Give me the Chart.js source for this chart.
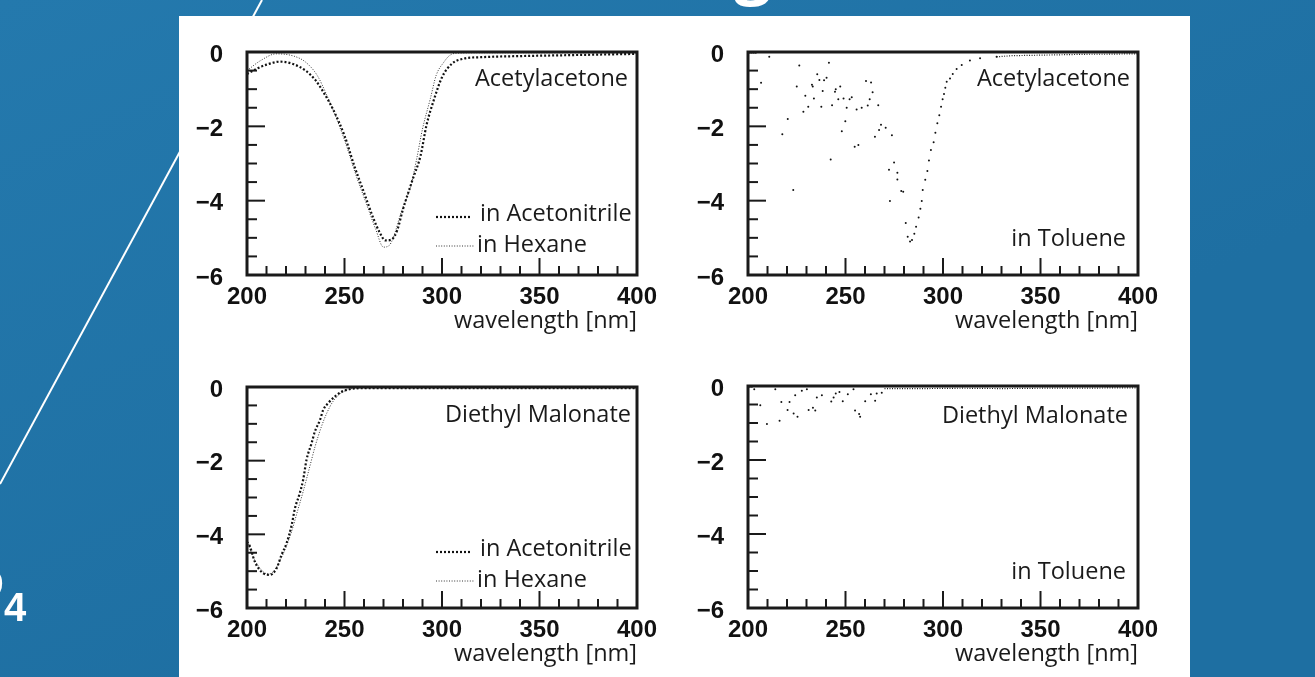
<!DOCTYPE html>
<html>
<head>
<meta charset="utf-8">
<script src="https://cdn.jsdelivr.net/npm/chart.js@4/dist/chart.umd.min.js"></script>
<style>
  body { margin: 0; width: 1315px; height: 677px; overflow: hidden; position: relative; }
  #deco { position: absolute; left: 0; top: 0; }
  #panel { position: absolute; left: 179px; top: 16px; width: 1011px; height: 661px; background: #fff; }
  .box { position: absolute; }
</style>
</head>
<body>
<canvas id="deco" width="1315" height="677"></canvas>
<div id="panel"></div>
<script>
// tick labels
const X_TICKS = [200, 250, 300, 350, 400];
const Y_TICKS = [0, -2, -4, -6];

// Acetylacetone, in acetonitrile
const WL_ACAC_ACN = [200, 205, 210, 217, 224, 230, 235, 240, 244, 250, 255, 260, 265, 268, 271, 274, 277, 280, 285, 289, 292, 296, 300, 305, 311, 320, 340, 360, 380, 400];
const ACAC_ACN = [-0.59, -0.45, -0.34, -0.26, -0.33, -0.5, -0.75, -1.15, -1.53, -2.25, -3.06, -3.78, -4.5, -4.85, -5.07, -5.05, -4.8, -4.23, -3.42, -2.79, -1.98, -1.26, -0.68, -0.32, -0.18, -0.14, -0.11, -0.09, -0.07, -0.05];

// Acetylacetone, in hexane
const WL_ACAC_HEX = [200, 207, 215, 224, 230, 236, 241, 246, 251, 256, 261, 266, 270, 273, 275, 279, 284, 287, 290, 294, 297, 301, 304, 308, 320, 360, 400];
const ACAC_HEX = [-0.5, -0.23, -0.05, -0.11, -0.27, -0.63, -1.17, -1.8, -2.52, -3.33, -4.05, -4.77, -5.25, -5.2, -5.0, -4.32, -3.6, -2.88, -2.07, -1.26, -0.63, -0.27, -0.09, -0.03, -0.02, -0.02, -0.02];

// Acetylacetone, in toluene (single points)
const WL_ACAC_TOL = [201, 202, 203, 204, 206.7, 210.9, 217.6, 220.4, 223.2, 225, 226.3, 228.4, 229.4, 230.9, 232.8, 233.2, 233.8, 235.5, 236.6, 237.6, 238.3, 239, 240.3, 241.5, 242.4, 243.1, 244.6, 245, 246.3, 247.3, 248.1, 249, 249.9, 250.6, 252.1, 253.2, 254.7, 255.7, 256.6, 258.3, 260.5, 261.4, 262.4, 263.1, 263.9, 265.1, 266.8, 267.2, 268.2, 270.6, 272.3, 272.8, 273.8, 274.9, 276.6, 276.6, 278.6, 279.6, 280.9, 281.9, 283.1, 284.1, 285.3, 286.2, 287.5, 288.4, 289.1, 289.6, 290.9, 292, 292.8, 293.8, 295.2, 296.1, 297.1, 298.1, 299, 299.8, 300.5, 301.2, 301.9, 303.6, 305, 307, 309.6, 313.8, 319, 327.5];
const ACAC_TOL = [-0.02, -0.02, -0.02, -0.02, -0.83, -0.13, -2.21, -1.8, -3.71, -0.93, -0.36, -1.61, -1.18, -1.47, -0.88, -0.93, -1.25, -0.6, -0.75, -1.47, -1.05, -0.76, -0.69, -0.29, -2.89, -1.43, -1.07, -1.0, -1.27, -0.93, -2.13, -1.25, -1.86, -1.5, -1.27, -1.22, -2.55, -1.55, -2.5, -1.5, -0.78, -1.44, -1.27, -0.82, -1.08, -2.28, -1.43, -2.1, -1.96, -2.04, -3.17, -4.01, -2.24, -2.97, -3.25, -3.43, -3.74, -3.76, -4.6, -4.97, -5.1, -5.06, -4.89, -4.7, -4.45, -4.22, -4.01, -3.71, -3.44, -3.2, -2.92, -2.64, -2.43, -2.17, -1.92, -1.7, -1.47, -1.27, -1.13, -0.96, -0.8, -0.71, -0.59, -0.46, -0.35, -0.23, -0.17, -0.13];
const WL_ACAC_TOL_TAIL = [327.5, 335, 345, 355, 365, 375, 385, 395, 400];
const ACAC_TOL_TAIL = [-0.13, -0.1, -0.09, -0.08, -0.07, -0.06, -0.06, -0.05, -0.05];

// Diethyl malonate, in acetonitrile
const WL_DEM_ACN = [200, 201.5, 204, 208.4, 211.8, 215.2, 217.7, 220.3, 222.9, 224.6, 226.8, 228.8, 230.5, 233.1, 234.8, 237.4, 239.1, 241.6, 245, 248.5, 252.7, 260, 300, 350, 400];
const DEM_ACN = [-4.2, -4.33, -4.74, -5.06, -5.1, -4.92, -4.56, -4.24, -3.75, -3.29, -2.93, -2.52, -1.98, -1.53, -1.21, -0.9, -0.62, -0.44, -0.26, -0.13, -0.06, -0.03, -0.03, -0.03, -0.03];

// Diethyl malonate, in hexane
const WL_DEM_HEX = [200, 204, 208, 211, 214, 217, 220, 223, 226, 229, 232, 235, 238, 241, 244, 247, 250, 254, 260, 300, 350, 400];
const DEM_HEX = [-4.2, -4.7, -5.0, -5.08, -4.98, -4.7, -4.35, -3.9, -3.35, -2.8, -2.2, -1.6, -1.1, -0.7, -0.4, -0.22, -0.11, -0.04, -0.02, -0.02, -0.02, -0.02];

// Diethyl malonate, in toluene (single points)
const WL_DEM_TOL = [201, 202, 203.2, 206.3, 209.7, 214, 216.2, 217.1, 220.3, 221.3, 223.4, 224.2, 225.4, 227.6, 230.2, 231.1, 233.3, 234.5, 235.3, 237.9, 242.7, 243.9, 245, 246.9, 248.6, 251.2, 254.1, 254.9, 257, 257.5, 260.1, 263, 265.2, 266, 268.6];
const DEM_TOL = [-0.02, -0.02, -0.09, -0.52, -1.03, -0.09, -0.94, -0.43, -0.65, -0.43, -0.74, -0.25, -0.83, -0.13, -0.09, -0.65, -0.59, -0.66, -0.31, -0.25, -0.42, -0.31, -0.2, -0.16, -0.41, -0.22, -0.09, -0.66, -0.76, -0.83, -0.41, -0.22, -0.4, -0.2, -0.18];
const WL_DEM_TOL_TAIL = [270, 290, 310, 330, 350, 370, 390, 400];
const DEM_TOL_TAIL = [-0.07, -0.07, -0.06, -0.07, -0.06, -0.06, -0.05, -0.05];

const pts = (xs, ys) => xs.map((x, i) => ({ x, y: ys[i] }));

const ACN_STYLE = { borderColor: '#111', borderWidth: 2.2, borderDash: [2, 2], pointRadius: 0, showLine: true, cubicInterpolationMode: 'monotone' };
const HEX_STYLE = { borderColor: '#333', borderWidth: 1, borderDash: [1, 1.6], pointRadius: 0, showLine: true, cubicInterpolationMode: 'monotone' };
const DOT_STYLE = { pointRadius: 1, pointBorderWidth: 0, pointBackgroundColor: '#111', showLine: false };
const TAIL_STYLE = { borderColor: '#222', borderWidth: 1.2, borderDash: [1, 1.5], pointRadius: 0, showLine: true };

// background of the slide
(function () {
  const c = document.getElementById('deco').getContext('2d');
  const g = c.createLinearGradient(0, 0, 300, 677);
  g.addColorStop(0, '#2479ad');
  g.addColorStop(1, '#1e6fa2');
  c.fillStyle = g;
  c.fillRect(0, 0, 1315, 677);
  c.strokeStyle = '#fff';
  c.lineWidth = 2;
  c.beginPath(); c.moveTo(262, 0); c.lineTo(0, 484); c.stroke();
  c.fillStyle = '#fff';
  c.font = 'bold 66px "Open Sans"';
  c.textAlign = 'center';
  c.fillText('g', 753, -9);
  c.font = 'bold 44px "Liberation Sans"';
  c.textAlign = 'right';
  c.fillText('O', 4, 599);
  c.font = 'bold 40px "Liberation Sans"';
  c.textAlign = 'left';
  c.fillText('4', 4, 621);
})();

const frameDeco = {
  id: 'frameDeco',
  afterDatasetsDraw(chart, args, opts) {
    const { ctx, chartArea: a, scales: { x, y } } = chart;
    ctx.save();
    ctx.strokeStyle = '#1a1a1a';
    ctx.lineWidth = 2;
    for (let v = 200; v <= 400; v += 10) {
      const px = x.getPixelForValue(v);
      const len = v % 50 === 0 ? 17 : 9;
      ctx.beginPath(); ctx.moveTo(px, a.bottom); ctx.lineTo(px, a.bottom - len); ctx.stroke();
    }
    for (let v = -6; v <= 0; v += 0.5) {
      const py = y.getPixelForValue(v);
      const len = v % 2 === 0 ? 18 : 10;
      ctx.beginPath(); ctx.moveTo(a.left, py); ctx.lineTo(a.left + len, py); ctx.stroke();
    }
    ctx.lineWidth = 3;
    ctx.strokeRect(a.left, a.top, a.right - a.left, a.bottom - a.top);

    ctx.font = '23.5px "Open Sans"';
    ctx.fillStyle = '#1a1a1a';
    ctx.textBaseline = 'middle';
    ctx.textAlign = 'right';
    (opts.labels || []).forEach(l => ctx.fillText(l.text, a.right - l.dx, a.top + l.dy));

    ctx.textAlign = 'left';
    (opts.legend || []).forEach(l => {
      const ds = chart.data.datasets[l.ds];
      ctx.strokeStyle = ds.borderColor;
      ctx.lineWidth = ds.borderWidth;
      ctx.setLineDash(ds.borderDash);
      ctx.beginPath();
      ctx.moveTo(a.left + l.x0, a.top + l.ly);
      ctx.lineTo(a.left + l.x1, a.top + l.ly);
      ctx.stroke();
      ctx.setLineDash([]);
      ctx.fillText(l.text, a.left + l.tx, a.top + l.ty);
    });
    ctx.restore();
  }
};

const fmt = v => (v < 0 ? '\u2212' + Math.abs(v) : String(v));

function panel(left, top, h, datasets, deco) {
  const box = document.createElement('div');
  box.className = 'box';
  box.style.left = (left - 67) + 'px';
  box.style.top = (top - 40) + 'px';
  box.style.width = '500px';
  box.style.height = (40 + h + 67) + 'px';
  const cv = document.createElement('canvas');
  box.appendChild(cv);
  document.body.appendChild(box);

  new Chart(cv, {
    type: 'scatter',
    data: { datasets },
    options: {
      responsive: true,
      maintainAspectRatio: false,
      animation: false,
      events: [],
      layout: { padding: { top: 40, right: 43, left: 0, bottom: 0 } },
      plugins: { legend: { display: false }, tooltip: { enabled: false }, frameDeco: deco },
      scales: {
        x: {
          type: 'linear', min: 200, max: 400,
          afterBuildTicks: s => { s.ticks = X_TICKS.map(v => ({ value: v })); },
          afterFit: s => { s.height = 67; },
          grid: { display: false, drawTicks: false },
          border: { display: false },
          ticks: { padding: 8, color: '#111', font: { family: 'Liberation Sans', size: 24, weight: 'bold' }, maxRotation: 0 },
          title: { display: true, text: 'wavelength [nm]', align: 'end', color: '#1a1a1a', padding: { top: 0, bottom: 7 }, font: { family: 'Open Sans', size: 23.5 } }
        },
        y: {
          type: 'linear', min: -6, max: 0,
          afterBuildTicks: s => { s.ticks = Y_TICKS.map(v => ({ value: v })); },
          afterFit: s => { s.width = 67; },
          grid: { display: false, drawTicks: false },
          border: { display: false },
          ticks: { padding: 24, labelOffset: 3, color: '#111', callback: fmt, font: { family: 'Liberation Sans', size: 24, weight: 'bold' } }
        }
      }
    },
    plugins: [frameDeco]
  });
}

const LEGEND = [
  { ds: 0, text: 'in Acetonitrile', x0: 189, x1: 224, ly: 165, tx: 233, ty: 162 },
  { ds: 1, text: 'in Hexane', x0: 189, x1: 227, ly: 194, tx: 230, ty: 193 }
];

panel(247, 52, 223, [
  Object.assign({ label: 'in Acetonitrile', data: pts(WL_ACAC_ACN, ACAC_ACN) }, ACN_STYLE),
  Object.assign({ label: 'in Hexane', data: pts(WL_ACAC_HEX, ACAC_HEX) }, HEX_STYLE)
], { labels: [{ text: 'Acetylacetone', dx: 9, dy: 27 }], legend: LEGEND });

panel(748, 52, 223, [
  Object.assign({ label: 'in Toluene', data: pts(WL_ACAC_TOL, ACAC_TOL) }, DOT_STYLE),
  Object.assign({ label: 'in Toluene tail', data: pts(WL_ACAC_TOL_TAIL, ACAC_TOL_TAIL) }, TAIL_STYLE)
], { labels: [{ text: 'Acetylacetone', dx: 8, dy: 27 }, { text: 'in Toluene', dx: 12, dy: 187 }] });

panel(247, 387, 221, [
  Object.assign({ label: 'in Acetonitrile', data: pts(WL_DEM_ACN, DEM_ACN) }, ACN_STYLE),
  Object.assign({ label: 'in Hexane', data: pts(WL_DEM_HEX, DEM_HEX) }, HEX_STYLE)
], { labels: [{ text: 'Diethyl Malonate', dx: 6, dy: 28 }], legend: LEGEND });

panel(748, 386, 222, [
  Object.assign({ label: 'in Toluene', data: pts(WL_DEM_TOL, DEM_TOL) }, DOT_STYLE),
  Object.assign({ label: 'in Toluene tail', data: pts(WL_DEM_TOL_TAIL, DEM_TOL_TAIL) }, TAIL_STYLE)
], { labels: [{ text: 'Diethyl Malonate', dx: 10, dy: 30 }, { text: 'in Toluene', dx: 12, dy: 186 }] });
</script>
</body>
</html>
